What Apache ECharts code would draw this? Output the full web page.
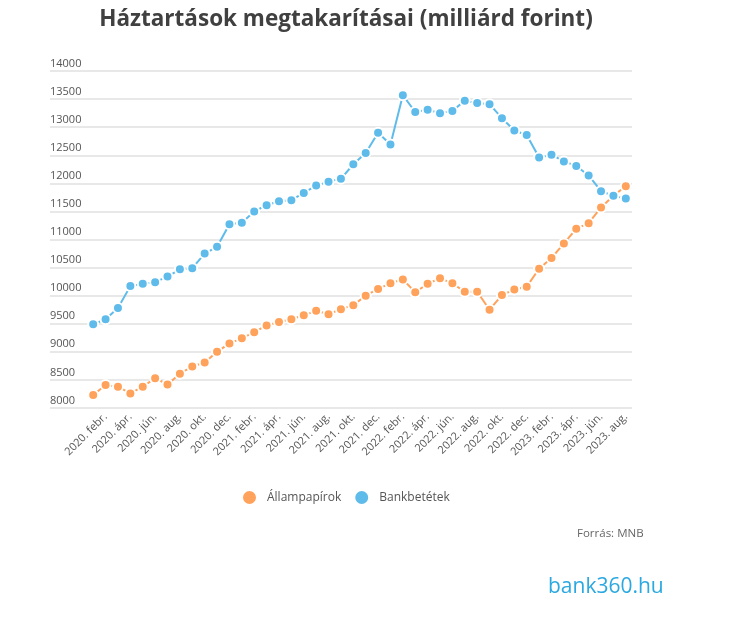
<!DOCTYPE html>
<html>
<head>
<meta charset="utf-8">
<script src="https://cdn.jsdelivr.net/npm/echarts@6/dist/echarts.min.js"></script>
<style>
html,body{margin:0;padding:0;background:#fff;}
#chart{width:736px;height:622px;}
</style>
</head>
<body>
<div id="chart"></div>
<script>
var years = [2020, 2021, 2022, 2023];
var monthNames = ['jan.', 'febr.', 'márc.', 'ápr.', 'máj.', 'jún.', 'júl.', 'aug.', 'szept.', 'okt.', 'nov.', 'dec.'];
// 2020. jan. – 2023. aug.
var categories = [];
for (var y = 0; y < years.length; y++) {
  for (var m = 0; m < 12; m++) {
    if (years[y] === 2023 && m > 7) break;
    categories.push(years[y] + '. ' + monthNames[m]);
  }
}
var allampapirok = [8230, 8410, 8380, 8260, 8380, 8530, 8420, 8610, 8740, 8810, 9000, 9150,
  9240, 9350, 9470, 9530, 9580, 9650, 9730, 9670, 9760, 9830, 10000, 10120,
  10220, 10290, 10060, 10210, 10310, 10220, 10070, 10070, 9750, 10010, 10110, 10160,
  10480, 10670, 10930, 11190, 11290, 11570, 11780, 11950];
var bankbetetek = [9490, 9580, 9780, 10170, 10210, 10240, 10340, 10470, 10490, 10750, 10870, 11270,
  11300, 11500, 11610, 11680, 11700, 11830, 11960, 12030, 12080, 12340, 12540, 12900,
  12690, 13570, 13270, 13310, 13250, 13290, 13470, 13430, 13410, 13160, 12940, 12860,
  12460, 12510, 12390, 12310, 12140, 11860, 11780, 11730];
var yMin = 8000, yMax = 14000, yStep = 500;

var orange = '#ffa25b', blue = '#5fbbea';
var FONT = '"Open Sans", sans-serif';

var chart = echarts.init(document.getElementById('chart'));
chart.setOption({
  backgroundColor: '#fff',
  animation: false,
  title: {
    text: 'Háztartások megtakarításai (milliárd forint)',
    left: 341, top: 3, textAlign: 'center',
    textStyle: {fontFamily: FONT, fontSize: 22.5, fontWeight: 'bold', color: '#404040'}
  },
  legend: {
    data: ['Állampapírok', 'Bankbetétek'],
    left: 236, top: 484,
    icon: 'circle', itemWidth: 15, itemHeight: 15, itemGap: 12,
    textStyle: {fontFamily: FONT, fontSize: 12, color: '#555', padding: [0, 0, 0, 5]}
  },
  grid: [
    {left: 50, right: 104, top: 71, height: 337, containLabel: false},
    {left: 87, right: 104, top: 71, height: 337, containLabel: false}
  ],
  xAxis: [
    {gridIndex: 0, type: 'category', data: categories, show: false},
    {gridIndex: 1, type: 'category', data: categories, boundaryGap: true,
     axisLine: {show: false}, axisTick: {show: false},
     axisLabel: {
       interval: function (i) { return i % 2 === 1; },
       rotate: 45, margin: 7, fontFamily: FONT, fontSize: 11, color: '#555'
     }}
  ],
  yAxis: [
    {gridIndex: 0, type: 'value', min: yMin, max: yMax, interval: yStep,
     axisLine: {show: false}, axisTick: {show: false},
     splitLine: {lineStyle: {color: '#e0e0e0', width: 1.5}},
     axisLabel: {inside: true, align: 'left', verticalAlign: 'bottom', margin: 0,
       padding: [0, 0, 2, 0], fontFamily: FONT, fontSize: 11, color: '#555',
       formatter: function (v) { return String(v); }}},
    {gridIndex: 1, type: 'value', min: yMin, max: yMax, interval: yStep, show: false}
  ],
  series: [
    {name: 'Állampapírok', type: 'line', xAxisIndex: 1, yAxisIndex: 1, data: allampapirok,
     symbol: 'circle', symbolSize: 10, showAllSymbol: true, color: orange,
     lineStyle: {color: orange, width: 2},
     itemStyle: {color: orange, borderColor: '#fff', borderWidth: 2}},
    {name: 'Bankbetétek', type: 'line', xAxisIndex: 1, yAxisIndex: 1, data: bankbetetek,
     symbol: 'circle', symbolSize: 10, showAllSymbol: true, color: blue,
     lineStyle: {color: blue, width: 2},
     itemStyle: {color: blue, borderColor: '#fff', borderWidth: 2}}
  ],
  graphic: [
    {type: 'text', left: 577, top: 528,
     style: {text: 'Forrás: MNB', fontFamily: FONT, fontSize: 11.5, fill: '#666'}},
    {type: 'text', left: 548, top: 577,
     style: {text: 'bank360.hu', fontFamily: '"Open Sans", sans-serif', fontSize: 21, fill: '#2aa8e0'}}
  ]
});
</script>
</body>
</html>
